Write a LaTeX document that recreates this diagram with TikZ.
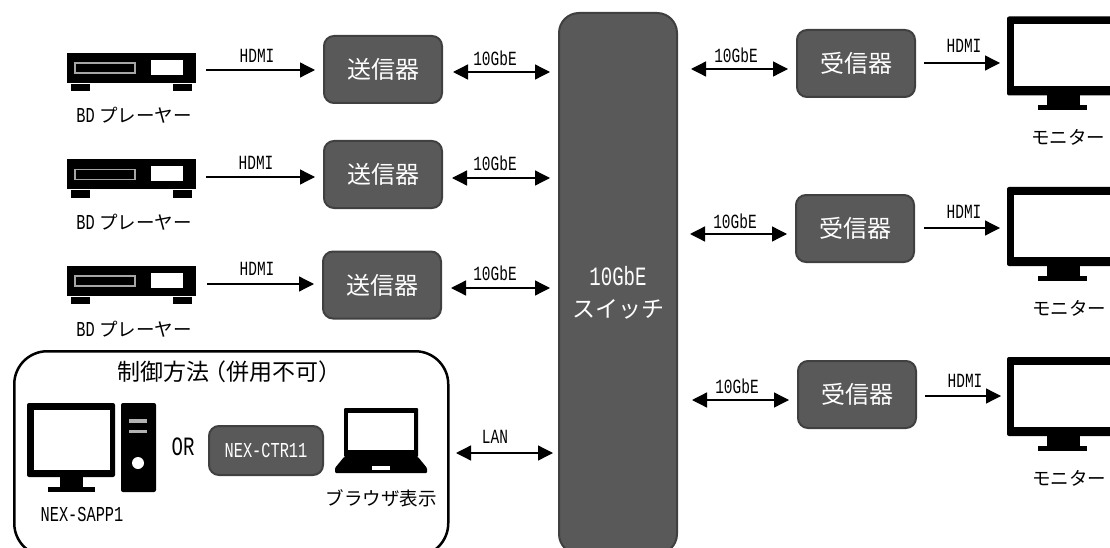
\documentclass[tikz,border=0pt]{standalone}
\usepackage{fontspec}
\usepackage{xcolor}
\usetikzlibrary{arrows.meta}
\setmainfont{Noto Sans CJK JP}
\newfontfamily\lat[FakeStretch=0.72,Scale=1.15]{Liberation Mono}
\definecolor{boxfill}{HTML}{595959}
\definecolor{boxline}{HTML}{404040}

\tikzset{
    unit/.style={rectangle, rounded corners=10pt, draw=boxline, line width=2pt, fill=boxfill, text=white,
        minimum width=118pt, minimum height=67pt, inner sep=0pt, font=\fontsize{24}{28}\selectfont},
    label/.style={inner sep=0pt, font=\fontsize{18.5}{22}\selectfont},
    tag/.style={inner sep=0pt, font=\fontsize{17.5}{20}\selectfont},
    oneway/.style={line width=1.3pt, shorten >=8pt, -{Triangle[length=15pt,width=15pt]}},
    twoway/.style={line width=1.3pt, shorten >=8pt, {Triangle[length=15pt,width=15pt]}-{Triangle[length=15pt,width=15pt]}},
    pics/player/.style={code={
        \fill (-64,-15) rectangle (65,15);
        \fill (-60,16) rectangle (-41,23);
        \fill (42,16) rectangle (61,23);
        \draw[gray!70, line width=1.3pt] (-56,-5) rectangle (4,5);
        \fill[white] (20,-8) rectangle (52,7);
    }},
    pics/monitor/.style={code={
        \fill[rounded corners=2pt] (-56,-39.5) rectangle (56,39.5);
        \fill[white] (-49,-32) rectangle (49,30.5);
        \fill (-16,39) rectangle (17,50);
        \fill (-25,49.5) rectangle (24,54.5);
    }},
}

\begin{document}
\begin{tikzpicture}[x=1pt, y=-1pt]
    \useasboundingbox (0,0) rectangle (1110,548);
    \clip (0,0) rectangle (1110,548);

    % switch
    \node[unit, minimum height=541pt, rounded corners=20pt, anchor=north] (switch) at (618,12) {};
    \node[inner sep=0pt, text=white, align=center, font=\fontsize{23}{32}\selectfont] (switchtext) at (618,293) {{\lat 10GbE}\\スイッチ};

    % senders
    \node[unit] (s1) at (383,69.5) {送信器};
    \node[unit] (s2) at (383,174.5) {送信器};
    \node[unit] (s3) at (382,285) {送信器};

    % receivers
    \node[unit] (r1) at (856,63.5) {受信器};
    \node[unit] (r2) at (855,228.5) {受信器};
    \node[unit] (r3) at (857,394.5) {受信器};

    % players
    \pic at (131,68) {player};
    \pic at (131,174.5) {player};
    \pic at (131,281) {player};
    \coordinate (p1) at (206,70);
    \coordinate (p2) at (206,177);
    \coordinate (p3) at (207,284);
    \node[label] (pl1) at (134,115) {{\lat BD}\ プレーヤー};
    \node[label] (pl2) at (134,222) {{\lat BD}\ プレーヤー};
    \node[label] (pl3) at (134,329) {{\lat BD}\ プレーヤー};

    % monitors
    \pic at (1063,56) {monitor};
    \pic at (1063,226.5) {monitor};
    \pic at (1063,396.5) {monitor};
    \coordinate (m1) at (1008,56);
    \coordinate (m2) at (1008,226);
    \coordinate (m3) at (1009,396);
    \node[label] (ml1) at (1068,137) {モニター};
    \node[label] (ml2) at (1069,308) {モニター};
    \node[label] (ml3) at (1069,478) {モニター};

    % control box
    \node[rectangle, rounded corners=33pt, draw=black, line width=2.5pt, minimum width=434pt, minimum height=205pt, anchor=north west] (ctrl) at (13,350) {};
    \node[inner sep=0pt, font=\fontsize{23}{28}\selectfont] (ctrltitle) at (229,372) {制御方法\hspace{-6pt}（併用不可）};
    \node[inner sep=0pt, font=\fontsize{23}{26}\selectfont] (or) at (183,447) {\lat OR};
    \node[unit, minimum width=114pt, minimum height=49pt, font=\fontsize{18.5}{20}\selectfont] (ctr) at (266,450.5) {\lat NEX-CTR11};
    \node[label] (sapp) at (82,514) {\lat NEX-SAPP1};
    \node[label] (browser) at (381,498) {ブラウザ表示};

    % pc
    \fill[rounded corners=2pt] (27,403) rectangle (115,477);
    \fill[white] (34,410) rectangle (110,470);
    \fill (60,477) rectangle (83,487);
    \fill (48,487) rectangle (95,492);
    \fill[rounded corners=2pt] (121,403) rectangle (156,492);
    \fill[gray!60] (129,419) rectangle (147,423);
    \fill[gray!60] (129,430) rectangle (147,433);
    \fill[white] (138,463) circle (6);

    % laptop
    \fill[rounded corners=1pt] (344,408) rectangle (418,457);
    \fill[white] (348,413) rectangle (414,450);
    \fill[rounded corners=1pt] (344,457) -- (418,457) -- (427,468) -- (427,473) -- (335,473) -- (335,468) -- cycle;
    \fill[white] (372,466) rectangle (390,470);

    % connectors
    \draw[oneway] (p1) -- (p1 -| s1.west);
    \draw[oneway] (p2) -- (p2 -| s2.west);
    \draw[oneway] (p3) -- (p3 -| s3.west);
    \node[tag] (h1) at (257,56) {\lat HDMI};
    \node[tag] (h2) at (256,163) {\lat HDMI};
    \node[tag] (h3) at (257,269) {\lat HDMI};

    \coordinate (a1) at (453,72);
    \coordinate (a2) at (452,178);
    \coordinate (a3) at (451,288);
    \coordinate (lan) at (456,453);
    \draw[twoway] (a1) -- (a1 -| switch.west);
    \draw[twoway] (a2) -- (a2 -| switch.west);
    \draw[twoway] (a3) -- (a3 -| switch.west);
    \draw[twoway, shorten >=5pt] (lan) -- (lan -| switch.west);
    \node[tag] (e1) at (495,58) {\lat 10GbE};
    \node[tag] (e2) at (495,163) {\lat 10GbE};
    \node[tag] (e3) at (495,273) {\lat 10GbE};
    \node[tag] (lanlabel) at (495,437) {\lat LAN};

    \coordinate (b1) at (691,69);
    \coordinate (b2) at (690,234);
    \coordinate (b3) at (692,400);
    \draw[twoway] (b1) -- (b1 -| r1.west);
    \draw[twoway] (b2) -- (b2 -| r2.west);
    \draw[twoway] (b3) -- (b3 -| r3.west);
    \node[tag] (f1) at (736,55) {\lat 10GbE};
    \node[tag] (f2) at (735,221) {\lat 10GbE};
    \node[tag] (f3) at (737,386) {\lat 10GbE};

    \coordinate (c1) at (924,63);
    \coordinate (c2) at (924,228);
    \coordinate (c3) at (925,396);
    \draw[oneway] (c1) -- (c1 -| m1);
    \draw[oneway] (c2) -- (c2 -| m2);
    \draw[oneway] (c3) -- (c3 -| m3);
    \node[tag] (g1) at (964,46) {\lat HDMI};
    \node[tag] (g2) at (964,212) {\lat HDMI};
    \node[tag] (g3) at (965,381) {\lat HDMI};
\end{tikzpicture}
\end{document}
